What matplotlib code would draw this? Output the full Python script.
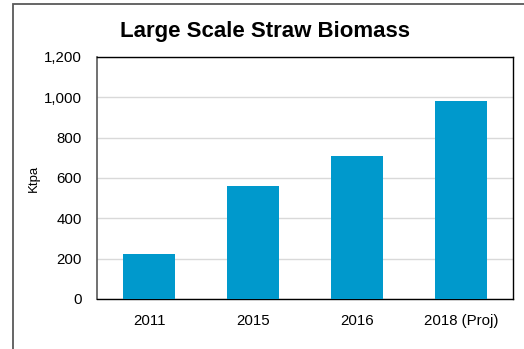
import matplotlib.pyplot as plt
from matplotlib.patches import Rectangle
from matplotlib.ticker import FuncFormatter

# data
years = ['2011', '2015', '2016', '2018 (Proj)']
biomass_ktpa = [223, 560, 707, 983]

plt.rcParams['font.family'] = ['Liberation Sans', 'DejaVu Sans']

W, H = 524, 349
fig = plt.figure(figsize=(W / 100, H / 100), dpi=100)
ax = fig.add_axes([97 / W, 1 - 299 / H, (513 - 97) / W, (299 - 57) / H])

ax.bar(years, biomass_ktpa, width=0.5, color='#0099CC', zorder=3)

ax.set_ylim(0, 1200)
ax.set_xlim(-0.5, 3.5)
ax.set_yticks(range(0, 1201, 200))
ax.yaxis.set_major_formatter(FuncFormatter(lambda v, p: f'{int(v):,}'))
ax.grid(axis='y', color='#d9d9d9', linewidth=1, zorder=0)
ax.tick_params(length=0, labelsize=10.8)
ax.tick_params(axis='y', pad=11)
ax.tick_params(axis='x', pad=11)
for s in ['top', 'right', 'bottom']:
    ax.spines[s].set_color('black')
    ax.spines[s].set_linewidth(1)
ax.spines['left'].set_color('#595959')
ax.spines['left'].set_linewidth(1.2)

ax.set_ylabel('Ktpa', fontsize=9.5)
ax.yaxis.set_label_coords(-57 / (513 - 97), 0.5)

fig.text(265 / W, 1 - 31 / H, 'Large Scale Straw Biomass', ha='center', va='center',
         fontsize=16, fontweight='bold')

# outer chart frame (cut off at right and bottom)
fig.patches.append(Rectangle((13 / W, -0.1), 1.2, 1.1 - 4 / H, transform=fig.transFigure,
                             fill=False, edgecolor='#595959', linewidth=1.3))

fig.savefig('out.png', dpi=100)
